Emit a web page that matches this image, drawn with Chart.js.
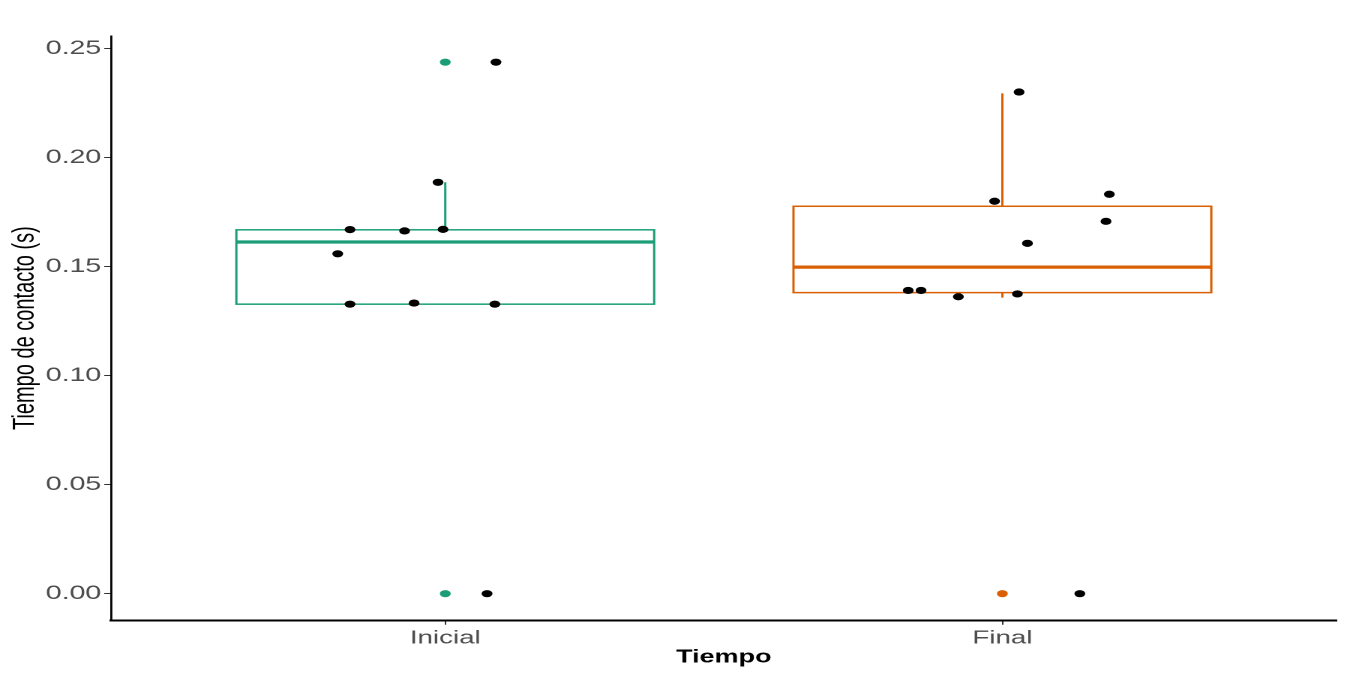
<!DOCTYPE html>
<html>
<head>
<meta charset="utf-8">
<script src="https://cdn.jsdelivr.net/npm/chart.js@4/dist/chart.umd.min.js"></script>
<style>
    html, body { margin: 0; padding: 0; background: #fff; overflow: hidden; }
</style>
</head>
<body>
<!-- the reference is stretched sideways, so the canvas is drawn narrow and widened by css -->
<canvas id="contactChart" width="900" height="676" style="display:block;width:1350px;height:676px;"></canvas>
<script>
const categories = ['Inicial', 'Final'];
const boxColors = ['#1B9E77', '#D95F02'];

// box statistics
const q1 = [0.1328, 0.1381];
const medians = [0.1613, 0.1498];
const q3 = [0.1669, 0.1777];
const whiskerLow = [0.1328, 0.1358];
const whiskerHigh = [0.1887, 0.2295];
const outlierValues = [[0.2438, 0.0], [0.0]];

// jittered points: value and sideways offset from the category
const inicialValues = [0.2438, 0.0, 0.1887, 0.1670, 0.1664, 0.1671, 0.1559, 0.1328, 0.1333, 0.1328];
const inicialOffsets = [0.091, 0.075, -0.013, -0.171, -0.073, -0.004, -0.193, -0.171, -0.056, 0.089];
const finalValues = [0.2301, 0.1800, 0.1832, 0.1708, 0.1607, 0.1391, 0.1391, 0.1362, 0.1375, 0.0];
const finalOffsets = [0.030, -0.014, 0.192, 0.186, 0.045, -0.169, -0.146, -0.079, 0.027, 0.139];

const yTicks = [0, 0.05, 0.10, 0.15, 0.20, 0.25];

document.addEventListener("DOMContentLoaded", function () {

    const jitterPoints = [];
    inicialValues.forEach((v, i) => jitterPoints.push({ x: 1 + inicialOffsets[i], y: v }));
    finalValues.forEach((v, i) => jitterPoints.push({ x: 2 + finalOffsets[i], y: v }));

    const outlierPoints = [];
    const outlierColors = [];
    outlierValues.forEach((list, c) => {
        list.forEach(v => {
            outlierPoints.push({ x: c + 1, y: v });
            outlierColors.push(boxColors[c]);
        });
    });

    // boxes and whiskers, drawn under the points
    const boxPlugin = {
        id: 'boxes',
        beforeDatasetsDraw(chart) {
            const c = chart.ctx;
            const xs = chart.scales.x;
            const ys = chart.scales.y;
            c.save();
            categories.forEach((cat, i) => {
                const cx = xs.getPixelForValue(i + 1);
                const left = xs.getPixelForValue(i + 1 - 0.375);
                const right = xs.getPixelForValue(i + 1 + 0.375);
                const top = ys.getPixelForValue(q3[i]);
                const bottom = ys.getPixelForValue(q1[i]);
                c.strokeStyle = boxColors[i];
                c.lineWidth = 1.5;
                c.beginPath();
                c.moveTo(cx, top);
                c.lineTo(cx, ys.getPixelForValue(whiskerHigh[i]));
                c.moveTo(cx, bottom);
                c.lineTo(cx, ys.getPixelForValue(whiskerLow[i]));
                c.stroke();
                c.strokeRect(left, top, right - left, bottom - top);
                c.lineWidth = 3.2;
                const m = ys.getPixelForValue(medians[i]);
                c.beginPath();
                c.moveTo(left, m);
                c.lineTo(right, m);
                c.stroke();
            });
            c.restore();
        }
    };

    const ctx = document.getElementById('contactChart').getContext('2d');

    const contactChart = new Chart(ctx, {
        type: 'scatter',
        data: {
            datasets: [{
                label: 'puntos',
                data: jitterPoints,
                backgroundColor: '#000000',
                borderWidth: 0,
                pointRadius: 3.6
            }, {
                label: 'atipicos',
                data: outlierPoints,
                backgroundColor: outlierColors,
                borderWidth: 0,
                pointRadius: 3.6
            }]
        },
        options: {
            responsive: false,
            devicePixelRatio: 2,
            animation: false,
            events: [],
            layout: { padding: { top: 36, right: 8.9, left: 0, bottom: 0 } },
            plugins: {
                legend: { display: false },
                tooltip: { enabled: false }
            },
            scales: {
                x: {
                    type: 'linear',
                    min: 0.4,
                    max: 2.6,
                    afterBuildTicks: (scale) => {
                        scale.ticks = categories.map((c, i) => ({ value: i + 1 }));
                    },
                    afterFit: (scale) => { scale.height = 55.7; },
                    ticks: {
                        autoSkip: false,
                        maxRotation: 0,
                        padding: 2.5,
                        color: '#4D4D4D',
                        font: { family: 'Liberation Sans', size: 18.5 },
                        callback: (v) => categories[Math.round(v) - 1]
                    },
                    grid: {
                        drawOnChartArea: false,
                        drawTicks: true,
                        tickLength: 4.5,
                        color: '#333333'
                    },
                    border: { display: true, color: '#000000', width: 2 },
                    title: {
                        display: true,
                        text: 'Tiempo',
                        color: '#000000',
                        font: { family: 'Liberation Sans', size: 18, weight: 'bold' },
                        padding: { top: 0, bottom: 7.5 }
                    }
                },
                y: {
                    min: -0.0122,
                    max: 0.2558,
                    afterBuildTicks: (scale) => {
                        scale.ticks = yTicks.map(v => ({ value: v }));
                    },
                    afterFit: (scale) => { scale.width = 74; },
                    ticks: {
                        padding: 2,
                        color: '#4D4D4D',
                        font: { family: 'Liberation Sans', size: 19 },
                        callback: (v) => v.toFixed(2)
                    },
                    grid: {
                        drawOnChartArea: false,
                        drawTicks: true,
                        tickLength: 4.5,
                        color: '#333333'
                    },
                    border: { display: true, color: '#000000', width: 1.4 },
                    title: {
                        display: true,
                        text: 'Tiempo de contacto (s)',
                        color: '#000000',
                        font: { family: 'Liberation Sans', size: 20 },
                        padding: { top: 5, bottom: 0 }
                    }
                }
            }
        },
        plugins: [boxPlugin]
    });

});
</script>
</body>
</html>
